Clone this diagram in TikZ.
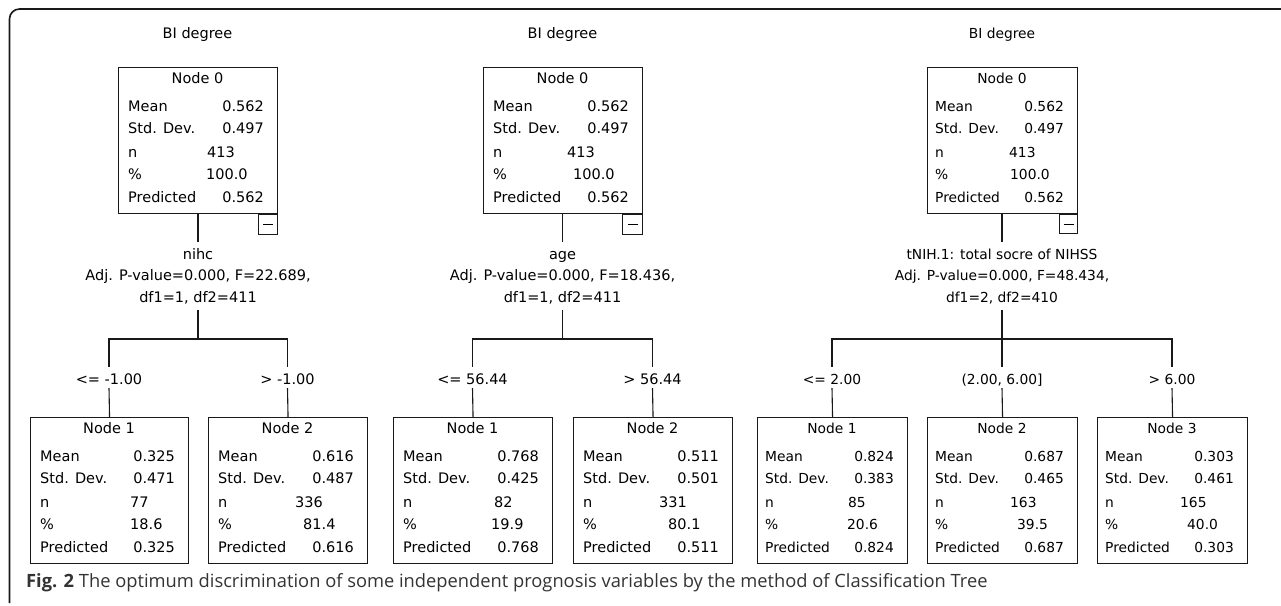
\documentclass[tikz,border=0pt]{standalone}
\usepackage{fontspec}
\setmainfont{DejaVu Sans}
\newfontfamily\capfont{Open Sans}
\newcommand\bfsz{\fontsize{14.5}{16}\selectfont}
\newcommand\lpad{10}
\tikzset{
  tbox/.style={draw=black!90, line width=1.1pt, inner sep=0pt, minimum height=146pt, anchor=north west},
  txt/.style={font=\bfsz, inner sep=0pt, text=black},
  minusbox/.style={draw=black!90, line width=1pt, inner sep=0pt, minimum height=20pt, anchor=north east},
  conn/.style={draw=black!90, line width=1.1pt},
  splitlbl/.style={font=\bfsz, inner xsep=0pt, inner ysep=6pt, text height=11pt, text depth=2pt, anchor=base},
  edgelbl/.style={font=\bfsz, inner xsep=0pt, inner ysep=4pt, text height=13pt, text depth=0pt, anchor=base},
}
% name, left, top, width, title, mean, sd, pred
\newcommand\treebox[8]{%
 \node[tbox, minimum width=#4pt] (#1) at (#2,#3) {};
 \node[txt, anchor=base] (#1-t) at ({#2+#4/2},{#3+16.5}) {#5};
 \node[txt, anchor=base west] (#1-ml) at ({#2+\lpad},{#3+44.5}) {Mean};
 \node[txt, anchor=base east] (#1-mv) at ({#2+#4-13},{#3+44.5}) {#6};
 \node[txt, anchor=base west] (#1-sl) at ({#2+\lpad},{#3+66.5}) {Std. Dev.};
 \node[txt, anchor=base east] (#1-sv) at ({#2+#4-13},{#3+66.5}) {#7};
 \node[txt, anchor=base west] (#1-nl) at ({#2+\lpad},{#3+90}) {n};
 \node[txt, anchor=base west] (#1-pl) at ({#2+\lpad},{#3+112}) {\%};
 \node[txt, anchor=base west] (#1-rl) at ({#2+\lpad},{#3+135}) {Predicted};
 \node[txt, anchor=base east] (#1-rv) at ({#2+#4-13},{#3+135}) {#8};
}
% name, top, nx, n, px, p
\newcommand\treenp[6]{%
 \node[txt, anchor=base west] (#1-nv) at (#3,{#2+90}) {#4};
 \node[txt, anchor=base west] (#1-pv) at (#5,{#2+112}) {#6};
}
\begin{document}
\begin{tikzpicture}[x=1pt,y=-1pt]
\useasboundingbox (0,0) rectangle (1281,605);
\draw[line width=1.6pt, black!90, rounded corners=10pt] (9.5,603) -- (9.5,9) -- (1281,9);

% ---------- column 1 ----------
\node[txt, anchor=base] (c1title) at (197.5,38) {BI degree};
\treebox{c1n0}{118}{67}{159}{Node 0}{0.562}{0.497}{0.562}
\treenp{c1n0}{67}{207}{413}{206}{100.0}
\node[minusbox, minimum width=19pt] (c1m) at (c1n0.south east) {};
\draw[line width=1pt] ([xshift=-5pt]c1m.center) -- ([xshift=5pt]c1m.center);
\node[splitlbl] (c1s1) at (198,259) {nihc};
\node[splitlbl] (c1s2) at (198,280.5) {Adj. P-value=0.000, F=22.689,};
\node[splitlbl] (c1s3) at (198,302) {df1=1, df2=411};
\coordinate (c1bar) at (198,339);
\node[edgelbl] (c1e1) at (109,384) {<= -1.00};
\node[edgelbl] (c1e2) at (287.5,384) {> -1.00};
\treebox{c1n1}{30}{417}{158}{Node 1}{0.325}{0.471}{0.325}
\treenp{c1n1}{417}{130}{77}{130}{18.6}
\treebox{c1n2}{208}{417}{159}{Node 2}{0.616}{0.487}{0.616}
\treenp{c1n2}{417}{295}{336}{303}{81.4}
\draw[conn] (c1s1.north) -- (c1s1.north |- c1n0.south);
\draw[conn] (c1s3.south) -- (c1bar);
\draw[conn] (c1e1.north) -- (c1e1.north |- c1bar) -- (c1e2.north |- c1bar) -- (c1e2.north);
\draw[conn] (c1e1.south) -- (c1n1.north);
\draw[conn] (c1e2.south) -- (c1n2.north);

% ---------- column 2 ----------
\node[txt, anchor=base] (c2title) at (562.5,38) {BI degree};
\treebox{c2n0}{483}{67}{159}{Node 0}{0.562}{0.497}{0.562}
\treenp{c2n0}{67}{567}{413}{573}{100.0}
\node[minusbox, minimum width=20pt] (c2m) at (c2n0.south east) {};
\draw[line width=1pt] ([xshift=-5pt]c2m.center) -- ([xshift=5pt]c2m.center);
\node[splitlbl] (c2s1) at (562.5,259) {age};
\node[splitlbl] (c2s2) at (562.5,280.5) {Adj. P-value=0.000, F=18.436,};
\node[splitlbl] (c2s3) at (562.5,302) {df1=1, df2=411};
\coordinate (c2bar) at (562.5,339);
\node[edgelbl] (c2e1) at (472.5,384) {<= 56.44};
\node[edgelbl] (c2e2) at (652.5,384) {> 56.44};
\treebox{c2n1}{393}{417}{159}{Node 1}{0.768}{0.425}{0.768}
\treenp{c2n1}{417}{494}{82}{491}{19.9}
\treebox{c2n2}{573}{417}{159}{Node 2}{0.511}{0.501}{0.511}
\treenp{c2n2}{417}{659}{331}{668}{80.1}
\draw[conn] (c2s1.north) -- (c2s1.north |- c2n0.south);
\draw[conn] (c2s3.south) -- (c2bar);
\draw[conn] (c2e1.north) -- (c2e1.north |- c2bar) -- (c2e2.north |- c2bar) -- (c2e2.north);
\draw[conn] (c2e1.south) -- (c2n1.north);
\draw[conn] (c2e2.south) -- (c2n2.north);

% ---------- column 3 ----------
\begin{scope}
\renewcommand\bfsz{\fontsize{13.8}{15}\selectfont}
\renewcommand\lpad{8}
\node[txt, anchor=base] (c3title) at (1002,38) {BI degree};
\treebox{c3n0}{927}{67}{150}{Node 0}{0.562}{0.497}{0.562}
\treenp{c3n0}{67}{1009}{413}{1010}{100.0}
\node[minusbox, minimum width=18pt, minimum height=19pt] (c3m) at (c3n0.south east) {};
\draw[line width=1pt] ([xshift=-5pt]c3m.center) -- ([xshift=5pt]c3m.center);
\node[splitlbl] (c3s1) at (1002,259) {tNIH.1: total socre of NIHSS};
\node[splitlbl] (c3s2) at (1002,280.5) {Adj. P-value=0.000, F=48.434,};
\node[splitlbl] (c3s3) at (1002,302) {df1=2, df2=410};
\coordinate (c3bar) at (1002,339);
\node[edgelbl] (c3e1) at (832,384) {<= 2.00};
\node[edgelbl] (c3e2) at (1002,384) {(2.00, 6.00]};
\node[edgelbl] (c3e3) at (1172,384) {> 6.00};
\treebox{c3n1}{757}{417}{150}{Node 1}{0.824}{0.383}{0.824}
\treenp{c3n1}{417}{848}{85}{847}{20.6}
\treebox{c3n2}{927}{417}{150}{Node 2}{0.687}{0.465}{0.687}
\treenp{c3n2}{417}{1010}{163}{1017}{39.5}
\treebox{c3n3}{1097}{417}{150}{Node 3}{0.303}{0.461}{0.303}
\treenp{c3n3}{417}{1180}{165}{1187}{40.0}
\draw[conn] (c3s1.north) -- (c3s1.north |- c3n0.south);
\draw[conn] (c3s3.south) -- (c3e2.north);
\draw[conn] (c3e1.north) -- (c3e1.north |- c3bar) -- (c3e3.north |- c3bar) -- (c3e3.north);
\draw[conn] (c3e1.south) -- (c3n1.north);
\draw[conn] (c3e2.south) -- (c3n2.north);
\draw[conn] (c3e3.south) -- (c3n3.north);
\end{scope}

% ---------- caption ----------
\node[anchor=base west, inner sep=0pt, text=black!80, font=\capfont\fontsize{18.3}{21}\selectfont] (cap) at (26,587)
  {\textbf{Fig. 2} The optimum discrimination of some independent prognosis variables by the method of Classification Tree};
\end{tikzpicture}
\end{document}
